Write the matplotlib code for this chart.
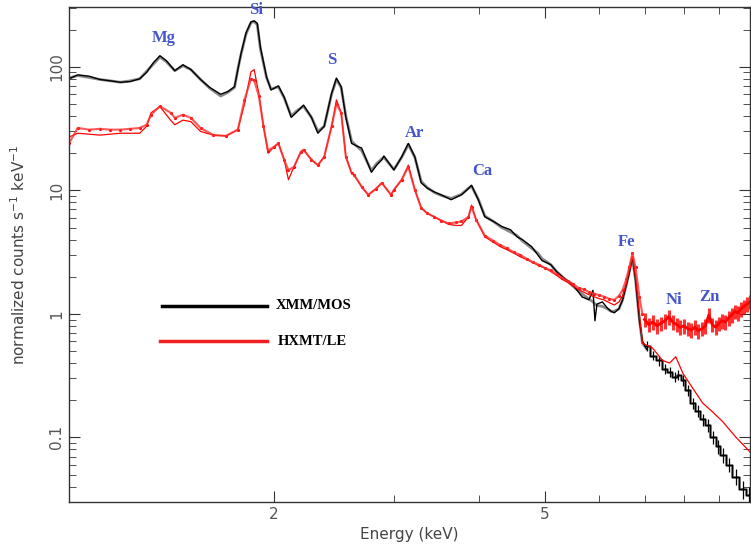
import numpy as np
import matplotlib
matplotlib.use('Agg')
import matplotlib.pyplot as plt
from matplotlib.ticker import FixedLocator, FixedFormatter, NullFormatter

# ── data (energy keV, normalized counts/s/keV) ──
e_mos = [1.00, 1.03, 1.07, 1.11, 1.15, 1.19, 1.23, 1.27, 1.30, 1.33, 1.36, 1.39, 1.43, 1.47,
         1.51, 1.56, 1.61, 1.67, 1.71, 1.75, 1.77, 1.79, 1.82, 1.85, 1.87, 1.89, 1.91, 1.95,
         1.98, 2.03, 2.07, 2.12, 2.16, 2.21, 2.27, 2.32, 2.37, 2.43, 2.47, 2.51, 2.55, 2.60,
         2.64, 2.69, 2.78, 2.83, 2.88, 2.90, 3.00, 3.08, 3.15, 3.22, 3.29, 3.36, 3.44, 3.52,
         3.64, 3.77, 3.85, 3.90, 3.99, 4.08, 4.20, 4.32, 4.45, 4.55, 4.63, 4.78, 4.88, 4.95,
         5.10, 5.20, 5.30, 5.45, 5.55, 5.67, 5.80, 5.88, 5.92, 5.96, 6.07, 6.17, 6.25, 6.32,
         6.42, 6.50, 6.58, 6.65, 6.72, 6.79, 6.88, 6.95, 7.05]
mos_data = [80, 86, 84, 79, 77, 75, 76, 80, 90, 108, 123, 112, 93, 104,
            95, 79, 68, 60, 63, 69, 95, 130, 189, 231, 236, 225, 145, 83,
            65, 70, 57, 39, 43, 49, 39, 29, 33, 61, 81, 69, 39, 24,
            23, 22, 14, 16, 17.7, 19, 14.6, 18.7, 24, 18.7, 11.5, 10.4, 9.7, 9.2,
            8.4, 9.2, 10.2, 11.0, 8.4, 6.1, 5.6, 5.1, 4.8, 4.2, 4.0, 3.5, 3.0, 2.7,
            2.5, 2.2, 2.0, 1.78, 1.6, 1.37, 1.3, 1.55, 0.88, 1.2, 1.25, 1.12, 1.05, 1.02,
            1.1, 1.3, 1.7, 2.15, 2.9, 1.88, 0.89, 0.6, 0.52]

mos_model = [81, 85, 82, 79, 77, 75, 77, 80, 92, 105, 120, 110, 93, 102,
             95, 79, 67, 58, 62, 68, 96, 128, 185, 228, 232, 220, 140, 82,
             66, 69, 56, 40, 44, 48, 39, 30, 33, 60, 79, 68, 40, 25,
             23, 21, 14.5, 16.5, 18, 18.5, 14.8, 18.5, 23.5, 18.5, 11.8, 10.5, 9.6, 9.1,
             8.6, 9.3, 10.3, 10.8, 8.5, 6.2, 5.6, 5.0, 4.6, 4.3, 3.9, 3.4, 3.1, 2.8,
             2.5, 2.2, 2.0, 1.75, 1.6, 1.45, 1.32, 1.25, 1.2, 1.17, 1.15, 1.1, 1.05, 1.05,
             1.1, 1.3, 1.7, 2.2, 2.8, 1.9, 0.9, 0.58, 0.52]

# XMM/MOS high-energy bins drawn as crosses
e_mos_hi = [7.05, 7.20, 7.35, 7.50, 7.62, 7.75, 7.85, 7.97, 8.10, 8.24, 8.38, 8.52, 8.67,
            8.82, 8.98, 9.12, 9.30, 9.54, 9.75, 9.95, 10.08]
mos_hi = [0.55, 0.46, 0.42, 0.36, 0.34, 0.31, 0.32, 0.29, 0.24, 0.19, 0.165, 0.14, 0.125,
          0.10, 0.085, 0.072, 0.06, 0.048, 0.038, 0.034, 0.033]
mos_hi_err = [0.05, 0.04, 0.04, 0.035, 0.03, 0.03, 0.03, 0.03, 0.025, 0.02, 0.018, 0.016,
              0.015, 0.012, 0.011, 0.01, 0.008, 0.007, 0.006, 0.006, 0.006]

e_le = [1.00, 1.03, 1.07, 1.11, 1.15, 1.19, 1.23, 1.27, 1.30, 1.32, 1.36, 1.41, 1.43, 1.47,
        1.51, 1.56, 1.63, 1.70, 1.77, 1.81, 1.85, 1.87, 1.90, 1.93, 1.96, 2.00, 2.03, 2.07,
        2.10, 2.14, 2.19, 2.21, 2.27, 2.32, 2.37, 2.43, 2.47, 2.51, 2.55, 2.60, 2.62, 2.69,
        2.75, 2.82, 2.88, 2.97, 3.00, 3.08, 3.15, 3.22, 3.29, 3.36, 3.44, 3.52, 3.61, 3.70,
        3.77, 3.86, 3.90, 3.96, 4.08, 4.20, 4.30, 4.40, 4.50, 4.60, 4.70, 4.80, 4.90, 5.00,
        5.10, 5.20, 5.30, 5.40, 5.50, 5.60, 5.70, 5.80, 5.90, 6.00, 6.10, 6.20, 6.32, 6.42,
        6.50, 6.58, 6.65, 6.72, 6.79, 6.88, 6.95]
le_data = [24, 32, 31, 31.5, 31, 31, 31.5, 32, 34, 41, 48, 42.5, 38.6, 41,
           38.6, 32, 28, 27.6, 31, 54, 80, 78, 58, 33, 21, 22.5, 24, 17.7,
           14.6, 15.5, 20.5, 21.3, 17.7, 16, 18.7, 33, 50, 42.5, 18.7, 13.8, 13.4, 10.7,
           9.2, 10.2, 11.5, 9.2, 10.1, 12.2, 15.5, 10.1, 7.2, 6.5, 6.1, 5.7, 5.4, 5.5,
           5.6, 6.1, 7.4, 5.8, 4.3, 3.9, 3.6, 3.4, 3.15, 3.0, 2.8, 2.62, 2.5, 2.35,
           2.25, 2.1, 1.96, 1.85, 1.75, 1.62, 1.58, 1.5, 1.46, 1.42, 1.38, 1.33, 1.3, 1.4,
           1.56, 1.9, 2.4, 3.1, 2.4, 1.37, 1.0]
le_model = [27, 29, 28.5, 28, 28.5, 29, 29, 29, 33, 42.5, 47.6, 37, 34, 37,
            36, 30, 28, 27.6, 31, 50, 91, 95, 61, 33, 20, 22.5, 24, 17.7,
            12.2, 15.5, 20.5, 21.3, 17.7, 16, 18.7, 33, 54, 42.5, 18.7, 13.8, 13.4, 10.7,
            9.2, 10.3, 11.5, 9.2, 10.1, 12.2, 16, 10.1, 7.2, 6.5, 6.1, 5.7, 5.3, 5.2,
            5.2, 6.1, 7.6, 5.8, 4.2, 3.8, 3.5, 3.3, 3.1, 2.9, 2.75, 2.6, 2.45, 2.35,
            2.2, 2.05, 1.9, 1.8, 1.68, 1.57, 1.5, 1.43, 1.38, 1.33, 1.3, 1.24, 1.18, 1.25,
            1.4, 1.75, 2.3, 2.9, 2.0, 1.0, 0.58]

# HXMT/LE background-dominated part above Fe line
e_le_hi = [7.00, 7.10, 7.20, 7.30, 7.40, 7.50, 7.60, 7.70, 7.80, 7.90, 8.00, 8.10, 8.20,
           8.30, 8.40, 8.50, 8.60, 8.70, 8.80, 8.90, 9.00, 9.10, 9.20, 9.30, 9.40, 9.50,
           9.60, 9.70, 9.80, 9.90, 10.00, 10.10]
le_hi = [0.90, 0.82, 0.86, 0.80, 0.84, 0.88, 0.95, 0.86, 0.82, 0.78, 0.80, 0.76, 0.74,
         0.78, 0.73, 0.76, 0.80, 0.98, 0.82, 0.78, 0.84, 0.88, 0.86, 0.93, 0.98, 1.05,
         1.02, 1.10, 1.15, 1.20, 1.25, 1.30]
le_hi_err = [0.12, 0.11, 0.12, 0.11, 0.11, 0.12, 0.13, 0.12, 0.11, 0.11, 0.11, 0.10, 0.10,
             0.11, 0.10, 0.10, 0.11, 0.13, 0.11, 0.11, 0.11, 0.12, 0.12, 0.13, 0.13, 0.14,
             0.14, 0.15, 0.15, 0.16, 0.16, 0.17]

e_le_model_hi = [6.95, 7.19, 7.44, 7.62, 7.78, 7.97, 8.24, 8.52, 8.82, 9.12, 9.54, 10.1]
le_model_hi = [0.58, 0.53, 0.42, 0.40, 0.45, 0.33, 0.25, 0.19, 0.16, 0.134, 0.10, 0.072]

lines = ['Mg', 'Si', 'S', 'Ar', 'Ca', 'Fe', 'Ni', 'Zn']
line_e = [1.376, 1.88, 2.43, 3.22, 4.04, 6.59, 7.73, 8.73]
line_y = [172, 289, 114, 29.2, 14.4, 3.83, 1.30, 1.37]

# ── plot ──
fig = plt.figure(figsize=(7.51, 5.49), dpi=100)
ax = fig.add_axes([69 / 751, 47 / 549, 681 / 751, 495 / 549])

ax.plot(e_mos, mos_model, color='#8a8a8a', lw=2.0)
ax.plot(e_mos, mos_data, color='black', lw=1.0)
ax.plot(e_mos_hi, mos_hi, color='#8a8a8a', lw=2.0, drawstyle='steps-mid')
ax.plot(e_mos_hi, mos_hi, color='black', lw=1.0, drawstyle='steps-mid')
ax.errorbar(e_mos_hi, mos_hi, yerr=mos_hi_err, xerr=0.05, fmt='none',
            ecolor='black', elinewidth=0.9)

ax.plot(e_le, le_model, color='red', lw=0.9)
ax.plot(e_le_model_hi, le_model_hi, color='red', lw=0.9)
ax.plot(e_le, le_data, color='red', lw=0.0, marker='.', ms=2.5)
ax.plot(e_le, le_data, color='#ff3030', lw=1.5, alpha=0.8)
ax.errorbar(e_le_hi, le_hi, yerr=le_hi_err, fmt='none', ecolor='red', elinewidth=2.2,
            alpha=0.8)
ax.plot(e_le_hi, le_hi, color='red', lw=2.0)

for name, x, y in zip(lines, line_e, line_y):
    ax.text(x, y, name, color='#4455cc', fontsize=12, fontweight='bold',
            family='Liberation Serif', ha='center', va='center')

# legend drawn by hand
ax.plot([0.137, 0.291], [0.396, 0.396], color='black', lw=2.5, transform=ax.transAxes)
ax.plot([0.134, 0.291], [0.325, 0.325], color='#ee2020', lw=2.5, transform=ax.transAxes)
ax.text(0.303, 0.396, 'XMM/MOS', transform=ax.transAxes, fontsize=10.5, fontweight='bold',
        family='Liberation Serif', va='center')
ax.text(0.306, 0.325, 'HXMT/LE', transform=ax.transAxes, fontsize=10.5, fontweight='bold',
        family='Liberation Serif', va='center')

ax.set_xscale('log')
ax.set_yscale('log')
ax.set_xlim(1.0, 10.0)
ax.set_ylim(0.03, 305)

ax.xaxis.set_major_locator(FixedLocator([2, 5]))
ax.xaxis.set_major_formatter(FixedFormatter(['2', '5']))
ax.xaxis.set_minor_locator(FixedLocator([3, 4, 6, 7, 8, 9]))
ax.xaxis.set_minor_formatter(NullFormatter())

ax.tick_params(which='both', direction='in', top=True, right=True, colors='#333333',
               labelcolor='#555555', labelsize=11)
ax.tick_params(which='major', length=8)
ax.tick_params(which='minor', length=5)
ax.yaxis.set_major_locator(FixedLocator([0.01, 0.1, 1, 10, 100, 1000]))
ax.yaxis.set_major_formatter(FixedFormatter(['0.01', '0.1', '1', '10', '100', '1000']))
plt.setp(ax.get_yticklabels(), rotation=90, va='center')

for s in ax.spines.values():
    s.set_color('#333333')
    s.set_linewidth(1.0)

ax.set_xlabel('Energy (keV)', color='#444444', fontsize=11)
ax.set_ylabel('normalized counts s$^{-1}$ keV$^{-1}$', color='#444444', fontsize=11)
ax.yaxis.set_label_coords(-0.06, 0.5)

plt.savefig('out.png', dpi=100)
